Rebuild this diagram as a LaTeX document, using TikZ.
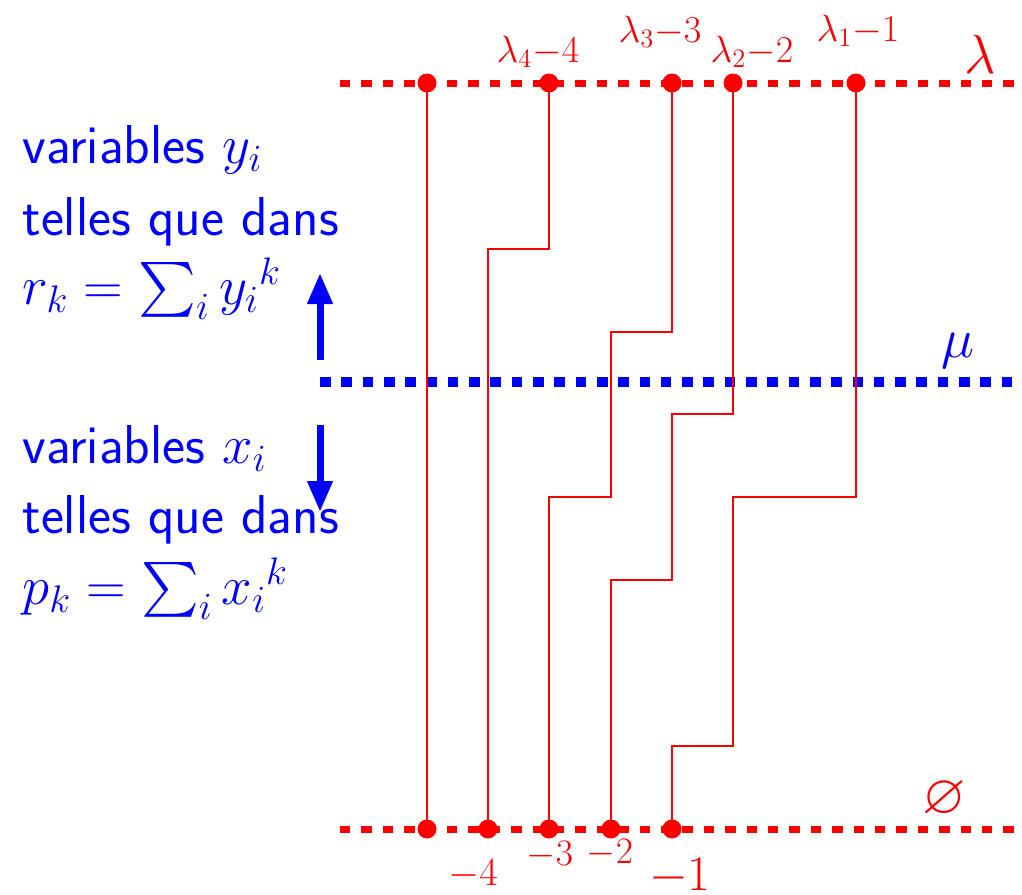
\RequirePackage{fix-cm}
\documentclass[tikz,border=0pt]{standalone}
\usepackage{amssymb}
\usetikzlibrary{arrows.meta}
\definecolor{lred}{RGB}{255,0,0}
\definecolor{lblue}{RGB}{0,0,255}
\tikzset{
  reddash/.style={draw=lred, line width=3.5pt, dash pattern=on 5.2pt off 5.5pt},
  bluedash/.style={draw=lblue, line width=5pt, dash pattern=on 5.3pt off 5.35pt},
  dot/.style={circle, fill=lred, inner sep=0pt, minimum size=9.5pt},
  trail/.style={draw=lred, line width=1.35pt},
  bigarrow/.style={draw=lblue, line width=3.5pt, -{Triangle[length=15.5pt,width=12pt]}},
  lbl/.style={text=lred, inner sep=0pt, anchor=base},
  lefttext/.style={text=lblue, inner sep=0pt, anchor=base west, font=\fontsize{27.4}{32}\selectfont\sffamily},
}
\begin{document}
\begin{tikzpicture}[x=0.5pt, y=-0.5pt]
\useasboundingbox (0,0) rectangle (1022,894);
% level lines
\coordinate (lamL) at (340,83);  \coordinate (lamR) at (1015,83);
\coordinate (muL)  at (320,382); \coordinate (muR)  at (1015,382);
\coordinate (nulL) at (340,829); \coordinate (nulR) at (1015,829);
\draw[reddash] (lamL) -- (lamR);
\draw[bluedash] (muL) -- (muR);
\draw[reddash] (nulL) -- (nulR);
% dots
\node[dot] (t1) at (427,83) {};
\node[dot] (t2) at (549,83) {};
\node[dot] (t3) at (672,83) {};
\node[dot] (t4) at (733,83) {};
\node[dot] (t5) at (856,83) {};
\node[dot] (b1) at (427,829) {};
\node[dot] (b2) at (488,829) {};
\node[dot] (b3) at (549,829) {};
\node[dot] (b4) at (611,829) {};
\node[dot] (b5) at (672,829) {};
% lattice paths
\draw[trail] (t1.center) -- (b1.center);
\draw[trail] (t2.center) -- (549,249) -- (488,249) -- (b2.center);
\draw[trail] (t3.center) -- (672,332) -- (611,332) -- (611,497) -- (549,497) -- (b3.center);
\draw[trail] (t4.center) -- (733,414) -- (672,414) -- (672,580) -- (611,580) -- (b4.center);
\draw[trail] (t5.center) -- (856,497) -- (733,497) -- (733,746) -- (672,746) -- (b5.center);
% top labels
\node[lbl, font=\fontsize{19}{22}\selectfont] (l4) at (538,62) {$\lambda_4{-}4$};
\node[lbl, font=\fontsize{19}{22}\selectfont] (l3) at (660,42) {$\lambda_3{-}3$};
\node[lbl, font=\fontsize{19}{22}\selectfont] (l2) at (752,62) {$\lambda_2{-}2$};
\node[lbl, font=\fontsize{19}{22}\selectfont] (l1) at (858,41) {$\lambda_1{-}1$};
\node[lbl, font=\fontsize{27.5}{30}\selectfont] (lam) at (980,73) {$\lambda$};
\node[lbl, text=lblue, font=\fontsize{28}{30}\selectfont] (mu) at (958,357) {$\mu$};
\node[lbl, font=\fontsize{28}{32}\selectfont] (nul) at (944,813) {$\varnothing$};
% bottom labels
\node[lbl, font=\fontsize{20}{24}\selectfont] (m4) at (473,885) {$-4$};
\node[lbl, font=\fontsize{18.7}{22}\selectfont] (m3) at (550,865) {$-3$};
\node[lbl, font=\fontsize{18.7}{22}\selectfont] (m2) at (610,863) {$-2$};
\node[lbl, font=\fontsize{25}{28}\selectfont] (m1) at (680,890) {$-1$};
% left text
\node[lefttext] (y1) at (22,163) {variables $y_i$};
\node[lefttext] (y2) at (22,235) {telles que dans};
\node[lefttext] (y3) at (22,304) {$r_k = \sum_i {y_i}^k$};
\node[lefttext] (x1) at (22,463) {variables $x_i$};
\node[lefttext] (x2) at (22,533) {telles que dans};
\node[lefttext] (x3) at (22,604) {$p_k = \sum_i {x_i}^k$};
% arrows
\coordinate (upS) at (320,360); \coordinate (upE) at (320,273);
\coordinate (dnS) at (320,425); \coordinate (dnE) at (320,512);
\draw[bigarrow] (upS) -- (upE);
\draw[bigarrow] (dnS) -- (dnE);
\end{tikzpicture}
\end{document}
